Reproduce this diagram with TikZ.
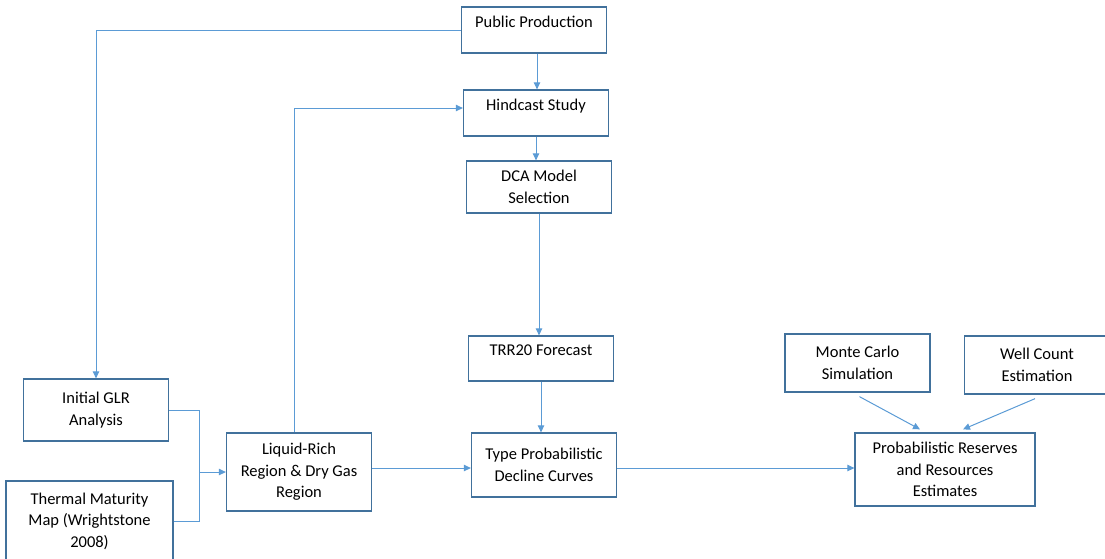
\documentclass[tikz,border=0pt]{standalone}
\usepackage{fontspec}
\setmainfont{Carlito}
\usetikzlibrary{arrows.meta,positioning,calc}
\definecolor{boxblue}{RGB}{65,113,156}
\definecolor{lineblue}{RGB}{91,155,213}
\tikzset{
  box/.style={rectangle, draw=boxblue, line width=1.3pt, fill=white,
              minimum width=145pt, minimum height=46pt, align=center,
              inner sep=0pt, font=\fontsize{16.5}{21.5}\selectfont},
  boxtop/.style={box, text height=12pt, text depth=17.5pt},
  arrow/.style={-{Triangle[length=7pt,width=6.5pt]}, line width=1pt, lineblue},
  link/.style={line width=1pt, lineblue},
}

\begin{document}
\begin{tikzpicture}[x=1pt,y=-1pt]
\useasboundingbox (0,0) rectangle (1105,558);
\clip (0,0) rectangle (1105,558);
% top column
\node[boxtop] (pub) at (534,30) {Public Production};
\node[boxtop] (hind) at (536,113) {Hindcast Study};
\node[box, minimum height=52pt] (dca) at (539,187) {DCA Model\\Selection};
\node[boxtop, minimum height=45pt] (trr) at (541,358.5) {TRR20 Forecast};
\node[box, minimum height=64pt] (typ) at (544,465) {Type Probabilistic\\Decline Curves};
% left side
\node[box, minimum height=62pt] (glr) at (96,410) {Initial GLR\\Analysis};
\node[box, minimum width=167pt, minimum height=80pt] (thm) at (89.5,521) {Thermal Maturity\\Map (Wrightstone\\2008)};
\node[box, minimum height=78pt] (liq) at (299,472) {Liquid-Rich\\Region \& Dry Gas\\Region};
% right side
\node[box, minimum height=58pt] (mc) at (857.5,363) {Monte Carlo\\Simulation};
\node[box, minimum height=58pt] (wc) at (1037,365) {Well Count\\Estimation};
\node[box, minimum width=180pt, minimum height=73pt] (prob) at (945,469.5) {Probabilistic Reserves\\and Resources\\Estimates};

\coordinate (mrg) at ([xshift=-26pt]liq.west);

\draw[arrow] (pub.west) -| (glr.north);
\draw[arrow] ([xshift=3pt]pub.south) -- ([xshift=3pt]pub.south |- hind.north);
\draw[arrow] ([xshift=-5pt]liq.north) |- ([yshift=5pt]hind.west);
\foreach \a/\b in {hind/dca, dca/trr, trr/typ}
  \draw[arrow] (\a.south) -- (\a.south |- \b.north);
\draw[link] (glr.east) -| (mrg);
\draw[link] (thm.east) -| (mrg);
\draw[arrow] (mrg) -- (liq.west);
\draw[arrow] ([yshift=4pt]liq.east) -- ([yshift=4pt]liq.east -| typ.west);
\draw[arrow] ([yshift=-3pt]typ.east) -- ([yshift=-3pt]typ.east -| prob.west);
\draw[arrow] ($(mc.south)+(2,4)$) -- ($(prob.north)+(-25,-3)$);
\draw[arrow] ($(wc.south)+(-2,4)$) -- ($(prob.north)+(18,-3)$);
\end{tikzpicture}
\end{document}
